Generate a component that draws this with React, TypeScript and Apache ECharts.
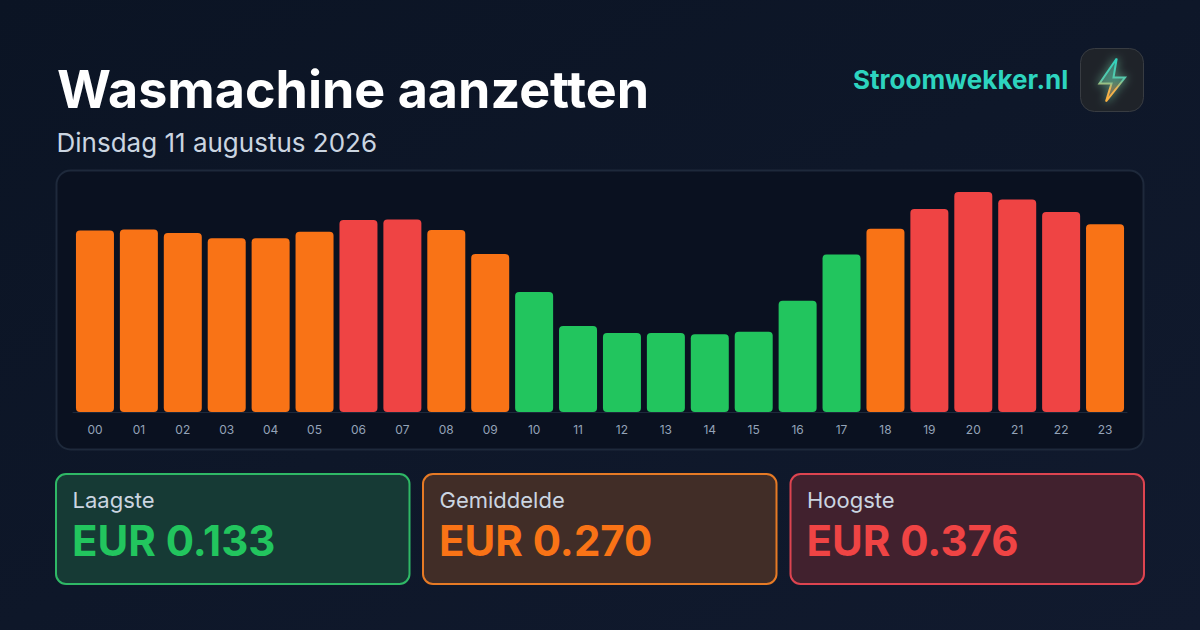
import React, { useEffect, useRef } from "react";
import * as echarts from "echarts";

const hours = ["00","01","02","03","04","05","06","07","08","09","10","11","12","13","14","15","16","17","18","19","20","21","22","23"];
const prices = [0.310,0.312,0.306,0.297,0.297,0.308,0.328,0.329,0.311,0.270,0.205,0.147,0.135,0.135,0.133,0.137,0.190,0.269,0.313,0.347,0.376,0.363,0.342,0.321];
const levels = ["m","m","m","m","m","m","h","h","m","m","l","l","l","l","l","l","l","l","m","h","h","h","h","m"];
const levelColors: Record<string,string> = { l: "#22c55e", m: "#f97316", h: "#ef4444" };
const title = "Wasmachine aanzetten";
const subtitle = "Dinsdag 11 augustus 2026";
const brand = "Stroomwekker.nl";
const cardLabels = ["Laagste","Gemiddelde","Hoogste"];
const cardValues = ["EUR 0.133","EUR 0.270","EUR 0.376"];
const cardX = [56,423,790.5];
const cardFill = ["#163a35","#412d27","#41212e"];
const cardBorder = ["#2fb866","#e67a25","#dd4450"];
const cardText = ["#22c55e","#f97316","#ef4444"];
const boltPoints = [[1116.7,58.5],[1099.5,83.5],[1111.5,83.5],[1106,101.5],[1125,77.5],[1113.5,77.5]];
const font = "Inter";

export default function App() {
  const ref = useRef<HTMLDivElement>(null);
  useEffect(() => {
    const chart = echarts.init(ref.current!, undefined, { renderer: "svg" });
    const boltGrad = (a: number) => new echarts.graphic.LinearGradient(0, 0, 0, 1, [
      { offset: 0, color: `rgba(45,212,191,${a})` },
      { offset: 0.5, color: `rgba(90,200,170,${a})` },
      { offset: 0.7, color: `rgba(240,180,80,${a})` },
      { offset: 1, color: `rgba(251,176,60,${a})` },
    ]);
    chart.setOption({
      animation: false,
      backgroundColor: new echarts.graphic.LinearGradient(0, 0, 1, 1, [
        { offset: 0, color: "#0b1424" },
        { offset: 1, color: "#111a2e" },
      ]),
      grid: { left: 73, width: 1054, top: 192, height: 220 },
      xAxis: {
        type: "category",
        data: hours,
        axisTick: { show: false },
        axisLine: { show: true, lineStyle: { color: "#1e293b", width: 1 } },
        axisLabel: { color: "#94a3b8", fontSize: 12, fontFamily: font, margin: 11 },
      },
      yAxis: { type: "value", min: 0, max: 0.376, show: false, splitLine: { show: false } },
      series: [{
        type: "bar",
        z: 5,
        barWidth: 38,
        data: prices.map((v, i) => ({ value: v, itemStyle: { color: levelColors[levels[i]], borderRadius: 4 } })),
      }],
      graphic: [
        { type: "text", x: 57, y: 63, z: 10, style: { text: title, fill: "#ffffff", font: `700 52px ${font}` } },
        { type: "text", x: 56.5, y: 129, z: 10, style: { text: subtitle, fill: "#cbd5e1", font: `400 26px ${font}` } },
        { type: "text", x: 853, y: 66, z: 10, style: { text: brand, fill: "#2dd4bf", font: `700 26px ${font}` } },
        { type: "rect", z: 1, shape: { x: 1080.5, y: 48.5, width: 63, height: 63, r: 14 }, style: { fill: "#1f2329", stroke: "#383c42", lineWidth: 1 } },
        { type: "polygon", z: 10, shape: { points: boltPoints }, style: { fill: boltGrad(0.3), stroke: boltGrad(1), lineWidth: 2, shadowBlur: 10, shadowColor: "rgba(120,210,170,0.9)" } },
        { type: "rect", z: 0, shape: { x: 56.5, y: 170.5, width: 1087, height: 279, r: 14 }, style: { fill: "#0a1120", stroke: "#1e293b", lineWidth: 2 } },
        ...cardX.flatMap((x, i) => [
          { type: "rect", z: 1, shape: { x, y: 474, width: 353.5, height: 110, r: 10 }, style: { fill: cardFill[i], stroke: cardBorder[i], lineWidth: 2 } },
          { type: "text", x: x + 16.5, y: 489, z: 10, style: { text: cardLabels[i], fill: "#cbd5e1", font: `400 22px ${font}` } },
          { type: "text", x: x + 16, y: 519, z: 10, style: { text: cardValues[i], fill: cardText[i], font: `700 42px ${font}` } },
        ]),
      ],
    });
    return () => chart.dispose();
  }, []);
  return <div ref={ref} style={{ position: "fixed", left: 0, top: 0, width: 1200, height: 630 }} />;
}
